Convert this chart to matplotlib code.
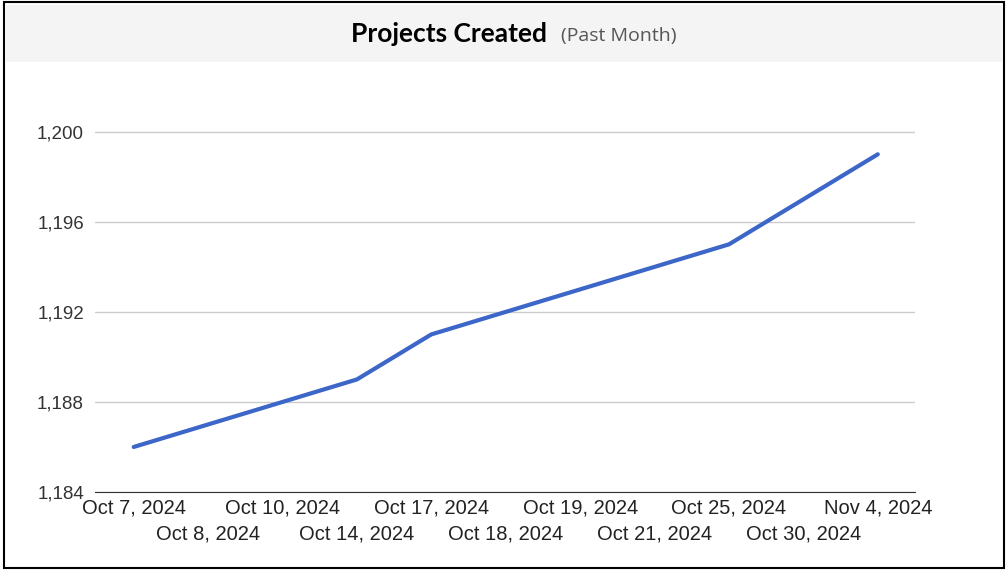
import matplotlib
matplotlib.use("Agg")
import matplotlib.pyplot as plt
from matplotlib.patches import Rectangle

dates = ["Oct 7, 2024", "Oct 8, 2024", "Oct 10, 2024", "Oct 14, 2024", "Oct 17, 2024",
         "Oct 18, 2024", "Oct 19, 2024", "Oct 21, 2024", "Oct 25, 2024", "Oct 30, 2024", "Nov 4, 2024"]
values = [1186, 1187, 1188, 1189, 1191, 1192, 1193, 1194, 1195, 1197, 1199]
yticks = [1184, 1188, 1192, 1196, 1200]

plt.rcParams['font.family'] = ['Liberation Sans', 'DejaVu Sans']
fig = plt.figure(figsize=(10.08, 5.70), dpi=100)
fig.patches.append(Rectangle((0.004, 0.004), 0.992, 0.992, transform=fig.transFigure,
                             fill=False, edgecolor='black', lw=1.5))
fig.patches.append(Rectangle((0.005, 1 - 62/570), 0.99, 57/570, transform=fig.transFigure,
                             facecolor='#f4f4f4', edgecolor='none'))
fig.text(0.543, 1 - 34/570, "Projects Created", ha='right', va='center',
         fontsize=19, fontweight='bold', family=['Lato', 'DejaVu Sans'])
fig.text(0.557, 1 - 36/570, "(Past Month)", ha='left', va='center',
         fontsize=14, color='#555555', family=['Open Sans', 'DejaVu Sans'])

ax = fig.add_axes([95/1008, 1 - 492/570, 820/1008, 394/570])
x = list(range(len(dates)))
ax.plot(x, values, color='#3c66c8', lw=3, solid_capstyle='round')
ax.set_xlim(-0.52, 10.5)
ax.set_ylim(1184, 1201.5)
ax.set_yticks(yticks)
ax.set_yticklabels([f"{v:,}" for v in yticks], fontsize=13.5, color='#333333')
ax.set_xticks(x)
ax.set_xticklabels([d if i % 2 == 0 else "\n" + d for i, d in enumerate(dates)],
                   fontsize=14.5, color='#222222', linespacing=1.45)
ax.tick_params(length=0, pad=5)
ax.tick_params(axis='y', pad=8)
ax.grid(axis='y', color='#cccccc', lw=1)
ax.set_axisbelow(True)
for s in ['top', 'right', 'left']:
    ax.spines[s].set_visible(False)
ax.spines['bottom'].set_color('#333333')
fig.savefig("out.png", dpi=100)
